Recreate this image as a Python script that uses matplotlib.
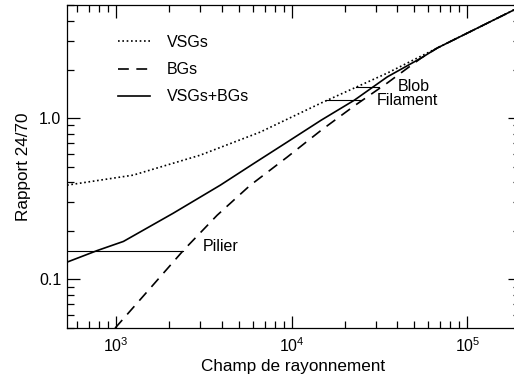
import numpy as np
import matplotlib
matplotlib.use("Agg")
import matplotlib.pyplot as plt
from matplotlib.ticker import LogLocator, FixedLocator, FixedFormatter, NullFormatter

plt.rcParams['font.family'] = ['Liberation Sans', 'DejaVu Sans']
plt.rcParams['mathtext.fontset'] = 'custom'
plt.rcParams['mathtext.rm'] = 'Liberation Sans'
plt.rcParams['mathtext.default'] = 'regular'

# Data
vsg_x = [525, 1250, 3010, 6600, 14700, 35000, 67500, 185000]
vsg_y = [0.384, 0.443, 0.589, 0.818, 1.24, 1.90, 2.72, 4.69]

tot_x = [525, 780, 1100, 2110, 3920, 6110, 9420, 14700, 22700, 35000, 54700, 67500, 185000]
tot_y = [0.128, 0.151, 0.172, 0.257, 0.384, 0.525, 0.71, 0.97, 1.29, 1.80, 2.36, 2.72, 4.69]

bg_x = [986, 1560, 2410, 3760, 5810, 6110, 9420, 14700, 22700, 35000, 54700, 67500, 185000]
bg_y = [0.0499, 0.088, 0.151, 0.25, 0.384, 0.40, 0.573, 0.84, 1.19, 1.65, 2.36, 2.72, 4.69]

legend_labels = ['VSGs', 'BGs', 'VSGs+BGs']

regions = ['Pilier', 'Blob', 'Filament']
region_y = [0.149, 1.56, 1.29]
region_x0 = [None, 23300, 15700]
region_x1 = [2410, 31600, 24900]

x_ticks = [1e3, 1e4, 1e5]
x_ticklabels = ['$10^{3}$', '$10^{4}$', '$10^{5}$']
y_ticks = [0.1, 1.0]
y_ticklabels = ['0.1', '1.0']

xmin, xmax = 10**2.72, 10**5.30
ymin, ymax = 0.05, 5.0

W, H = 514, 374
fig = plt.figure(figsize=(W/100, H/100), dpi=100)
left, right, top, bottom = 67, 520, 5.3, 328
ax = fig.add_axes([left/W, 1-bottom/H, (right-left)/W, (bottom-top)/H])

ax.set_xscale('log')
ax.set_yscale('log')
ax.set_xlim(xmin, xmax)
ax.set_ylim(ymin, ymax)

lw = 1.2
ax.plot(vsg_x, vsg_y, color='black', lw=lw, linestyle=(0, (1, 1.6)), label=legend_labels[0])
ax.plot(bg_x, bg_y, color='black', lw=lw, linestyle=(0, (6.5, 4.5)), label=legend_labels[1])
ax.plot(tot_x, tot_y, color='black', lw=lw, linestyle='-', label=legend_labels[2])

# region markers
fs = 11.5
fl = 12.3
for name, yv, x0, x1 in zip(regions, region_y, region_x0, region_x1):
    xa = xmin if x0 is None else x0
    ax.plot([xa, x1], [yv, yv], color='black', lw=0.8)
ax.text(3100, 0.16, 'Pilier', fontsize=fs, va='center', ha='left')
ax.text(40000, 1.58, 'Blob', fontsize=fs, va='center', ha='left')
ax.text(30300, 1.28, 'Filament', fontsize=fs, va='center', ha='left')

ax.xaxis.set_major_locator(FixedLocator(x_ticks))
ax.xaxis.set_major_formatter(FixedFormatter(x_ticklabels))
ax.xaxis.set_minor_locator(LogLocator(base=10, subs=np.arange(2, 10)))
ax.xaxis.set_minor_formatter(NullFormatter())
ax.yaxis.set_major_locator(FixedLocator(y_ticks))
ax.yaxis.set_major_formatter(FixedFormatter(y_ticklabels))
ax.yaxis.set_minor_locator(LogLocator(base=10, subs=np.arange(2, 10)))
ax.yaxis.set_minor_formatter(NullFormatter())

ax.tick_params(which='both', direction='in', top=True, right=True, labelsize=fs, width=0.9)
ax.tick_params(which='major', length=9)
ax.tick_params(which='minor', length=5)
ax.tick_params(axis='x', which='major', pad=6)
ax.tick_params(axis='y', which='major', pad=4)
for s in ax.spines.values():
    s.set_linewidth(0.9)

ax.set_xlabel('Champ de rayonnement', fontsize=fl, labelpad=3)
ax.set_ylabel('Rapport 24/70', fontsize=fl, labelpad=6)

leg = ax.legend(loc='upper left', bbox_to_anchor=(0.112, 0.9085), frameon=False,
                fontsize=fs, handlelength=2.0, handletextpad=1.1, labelspacing=0.77,
                borderpad=0.0, borderaxespad=0.0)

fig.savefig('out.png', dpi=100)
